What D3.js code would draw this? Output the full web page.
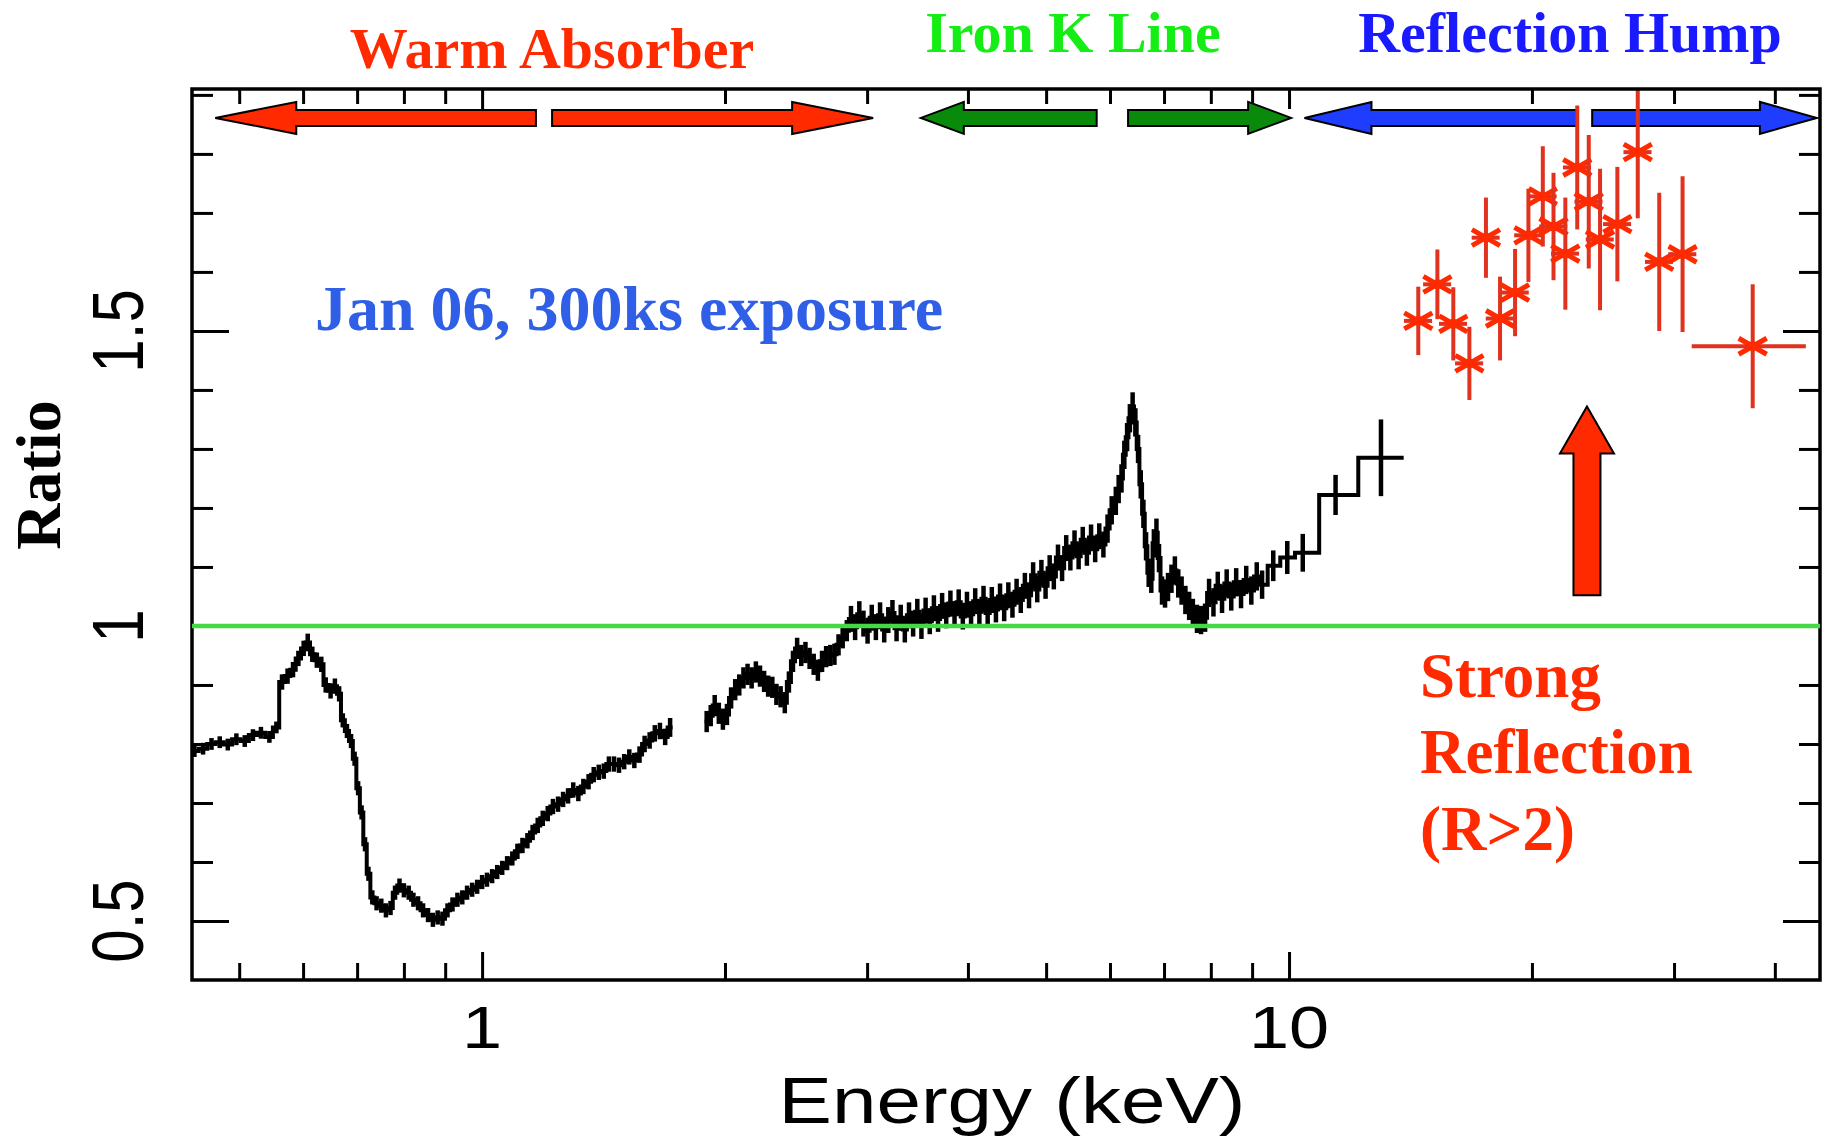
<!DOCTYPE html>
<html><head><meta charset="utf-8">
<script src="https://cdn.jsdelivr.net/npm/d3@7"></script>
<style>body{margin:0;background:#fff;}svg{display:block;}</style>
</head><body>
<svg id="chart" width="1829" height="1139"></svg>
<script>
// ---------- DATA ----------
// Black spectrum (ratio to power law), [energy keV, ratio, error]; two contiguous pieces
const softSegment = [
[0.440,0.788,0.010],[0.451,0.792,0.010],[0.462,0.800,0.010],[0.473,0.803,0.010],[0.484,0.799,0.010],
[0.496,0.808,0.010],[0.508,0.805,0.010],[0.520,0.815,0.010],[0.532,0.819,0.010],[0.545,0.812,0.010],
[0.556,0.828,0.010],[0.565,0.905,0.013],[0.574,0.915,0.013],[0.583,0.926,0.013],[0.592,0.945,0.013],
[0.601,0.962,0.013],[0.608,0.972,0.015],[0.616,0.952,0.013],[0.624,0.942,0.013],[0.632,0.935,0.013],
[0.640,0.900,0.013],[0.649,0.890,0.013],[0.657,0.898,0.013],[0.665,0.885,0.013],[0.672,0.840,0.012],
[0.680,0.822,0.012],[0.688,0.805,0.012],[0.695,0.775,0.012],[0.702,0.725,0.012],[0.709,0.684,0.012],
[0.716,0.630,0.012],[0.723,0.580,0.012],[0.731,0.540,0.012],[0.740,0.530,0.012],[0.750,0.526,0.012],
[0.760,0.518,0.012],[0.770,0.522,0.012],[0.780,0.548,0.012],[0.790,0.560,0.012],[0.800,0.552,0.012],
[0.811,0.548,0.012],[0.822,0.536,0.012],[0.833,0.530,0.012],[0.845,0.518,0.012],[0.857,0.510,0.012],
[0.869,0.502,0.012],[0.881,0.506,0.012],[0.893,0.504,0.012],[0.906,0.518,0.012],[0.919,0.528,0.012],
[0.932,0.536,0.012],[0.945,0.540,0.012],[0.958,0.548,0.012],[0.972,0.553,0.012],[0.986,0.558,0.012],
[1.000,0.566,0.012],[1.014,0.570,0.012],[1.029,0.576,0.012],[1.044,0.583,0.012],[1.059,0.590,0.012],
[1.074,0.598,0.012],[1.090,0.606,0.012],[1.106,0.618,0.013],[1.122,0.628,0.013],[1.138,0.636,0.013],
[1.155,0.650,0.013],[1.172,0.662,0.013],[1.189,0.674,0.013],[1.206,0.682,0.013],[1.224,0.694,0.013],
[1.242,0.698,0.013],[1.260,0.706,0.013],[1.278,0.712,0.013],[1.297,0.722,0.013],[1.316,0.716,0.013],
[1.335,0.728,0.013],[1.355,0.736,0.013],[1.375,0.748,0.013],[1.395,0.752,0.013],[1.415,0.754,0.013],
[1.436,0.766,0.013],[1.457,0.766,0.013],[1.478,0.764,0.013],[1.500,0.770,0.013],[1.522,0.778,0.013],
[1.544,0.772,0.013],[1.567,0.782,0.014],[1.590,0.800,0.014],[1.613,0.806,0.014],[1.637,0.818,0.014],
[1.661,0.822,0.014],[1.686,0.812,0.014],[1.710,0.828,0.016]
];
const hardSegment = [
[1.898,0.838,0.018],[1.920,0.848,0.018],[1.942,0.865,0.018],[1.965,0.852,0.018],[1.988,0.842,0.018],
[2.011,0.850,0.018],[2.035,0.878,0.018],[2.059,0.892,0.018],[2.083,0.900,0.018],[2.108,0.912,0.018],
[2.133,0.918,0.018],[2.158,0.912,0.018],[2.184,0.922,0.018],[2.210,0.915,0.018],[2.236,0.906,0.018],
[2.262,0.898,0.018],[2.289,0.896,0.018],[2.316,0.884,0.018],[2.344,0.880,0.018],[2.372,0.870,0.018],
[2.400,0.905,0.018],[2.428,0.940,0.018],[2.457,0.962,0.018],[2.486,0.950,0.018],[2.516,0.955,0.018],
[2.546,0.945,0.018],[2.576,0.935,0.018],[2.607,0.925,0.018],[2.638,0.940,0.018],[2.669,0.948,0.018],
[2.701,0.950,0.018],[2.733,0.952,0.018],[2.765,0.968,0.018],[2.798,0.980,0.018],[2.831,0.992,0.018],
[2.865,1.012,0.022],[2.899,0.998,0.022],[2.934,1.020,0.022],[2.969,1.004,0.022],[3.004,0.992,0.022],
[3.040,1.014,0.022],[3.076,0.998,0.022],[3.113,1.018,0.022],[3.150,0.994,0.022],[3.187,1.010,0.022],
[3.225,1.022,0.022],[3.263,0.996,0.022],[3.302,1.014,0.022],[3.341,0.994,0.022],[3.381,1.018,0.022],
[3.421,1.004,0.022],[3.462,1.024,0.022],[3.503,1.000,0.022],[3.545,1.026,0.022],[3.587,1.008,0.022],
[3.630,1.030,0.022],[3.673,1.012,0.022],[3.716,1.034,0.022],[3.760,1.018,0.022],[3.805,1.038,0.022],
[3.850,1.020,0.022],[3.896,1.040,0.022],[3.942,1.016,0.022],[3.989,1.036,0.022],[4.036,1.020,0.022],
[4.084,1.042,0.022],[4.133,1.024,0.022],[4.182,1.046,0.022],[4.232,1.022,0.022],[4.282,1.044,0.022],
[4.333,1.028,0.022],[4.384,1.050,0.022],[4.436,1.030,0.022],[4.489,1.052,0.022],[4.542,1.036,0.022],
[4.596,1.058,0.022],[4.651,1.044,0.022],[4.706,1.068,0.022],[4.762,1.052,0.022],[4.818,1.086,0.022],
[4.875,1.062,0.022],[4.933,1.090,0.022],[4.992,1.068,0.022],[5.051,1.098,0.022],[5.111,1.084,0.022],
[5.172,1.116,0.022],[5.233,1.098,0.022],[5.295,1.132,0.022],[5.358,1.116,0.022],[5.422,1.140,0.022],
[5.486,1.118,0.022],[5.551,1.146,0.022],[5.617,1.124,0.022],[5.684,1.150,0.022],[5.751,1.130,0.022],
[5.819,1.152,0.022],[5.888,1.138,0.022],[5.958,1.165,0.024],[6.029,1.196,0.024],[6.100,1.212,0.024],
[6.150,1.232,0.024],[6.200,1.250,0.024],[6.250,1.290,0.024],[6.300,1.320,0.024],[6.350,1.352,0.024],
[6.400,1.372,0.024],[6.450,1.345,0.024],[6.500,1.300,0.024],[6.550,1.240,0.024],[6.600,1.190,0.024],
[6.650,1.135,0.024],[6.700,1.090,0.024],[6.750,1.080,0.024],[6.800,1.140,0.024],[6.850,1.158,0.024],
[6.900,1.115,0.024],[6.960,1.060,0.024],[7.020,1.055,0.024],[7.080,1.066,0.024],[7.150,1.080,0.024],
[7.220,1.094,0.024],[7.290,1.072,0.024],[7.360,1.060,0.024],[7.440,1.044,0.024],[7.520,1.034,0.024],
[7.600,1.022,0.024],[7.690,1.012,0.024],[7.780,1.010,0.024],[7.870,1.014,0.024],[7.960,1.056,0.024],
[8.060,1.040,0.024],[8.160,1.068,0.024],[8.260,1.046,0.024],[8.370,1.072,0.024],[8.480,1.050,0.024],
[8.600,1.074,0.024],[8.720,1.054,0.024],[8.850,1.078,0.024],[8.980,1.060,0.024],[9.120,1.084,0.024],
[9.260,1.070,0.024],[9.560,1.102,0.026],[9.950,1.116,0.028],[10.40,1.124,0.032],[11.42,1.222,0.034],
[13.00,1.285,0.065]
];

// Red high-energy points
const redEnergy = [14.46,15.27,15.98,16.73,17.54,18.26,19.06,19.80,20.63,21.27,22.00,22.76,23.52,24.29,25.52,27.05,28.76,30.74,37.55];
const redELo    = [13.88,14.66,15.34,16.06,16.84,17.53,18.30,19.01,19.80,20.42,21.12,21.85,22.58,23.32,24.50,25.97,27.61,29.51,31.55];
const redEHi    = [15.04,15.88,16.62,17.40,18.24,18.99,19.82,20.59,21.46,22.12,22.88,23.67,24.46,25.26,26.54,28.13,29.91,31.97,43.70];
const redRatio  = [1.517,1.579,1.512,1.445,1.658,1.521,1.565,1.662,1.728,1.677,1.631,1.777,1.719,1.655,1.681,1.803,1.617,1.630,1.474];
const redErr    = [0.058,0.059,0.062,0.062,0.068,0.071,0.074,0.079,0.085,0.091,0.095,0.105,0.113,0.120,0.097,0.112,0.117,0.132,0.105];

// Axis ticks
const xMajorTicks = [1, 10];
const xTickLabels = ["1", "10"];
const xMinorTicks = [0.5,0.6,0.7,0.8,0.9,2,3,4,5,6,7,8,9,20,30,40];
const yMajorTicks = [0.5, 1, 1.5];
const yTickLabels = ["0.5", "1", "1.5"];
const yMinorTicks = [0.6,0.7,0.8,0.9,1.1,1.2,1.3,1.4,1.6,1.7,1.8,1.9];

// Annotation arrows (energy ranges, keV) at ratio level
const arrowLevel = 1.861;
const bandArrows = [
  {from:1.166, to:0.467, color:"#ff2a00", head:81},
  {from:1.221, to:3.052, color:"#ff2a00", head:81},
  {from:5.776, to:3.497, color:"#0a8a0a", head:43},
  {from:6.317, to:10.06, color:"#0a8a0a", head:43},
  {from:22.72, to:10.45, color:"#1f3dff", head:67},
  {from:23.75, to:45.1,  color:"#1f3dff", head:57}
];
const upArrow = {energy:23.4, from:1.052, to:1.372};

// ---------- CHART ----------
const svg = d3.select("#chart");
svg.append("rect").attr("width",1829).attr("height",1139).attr("fill","#fff");

const L=192, R=1820, T=89, B=980;
const x = d3.scaleLog().domain([0.437, 45.5]).range([L, R]);
const y = d3.scaleLinear().domain([0.4, 1.91]).range([B, T]);

svg.append("clipPath").attr("id","plotclip").append("rect")
  .attr("x",L).attr("y",T).attr("width",R-L).attr("height",B-T);

const plot = svg.append("g").attr("clip-path","url(#plotclip)");

// step path + error bars for black data
function drawSegment(seg){
  const edges = [];
  for (let i=1;i<seg.length;i++) edges.push(Math.sqrt(seg[i-1][0]*seg[i][0]));
  const lo0 = seg[0][0]*seg[0][0]/edges[0];
  const hiN = seg[seg.length-1][0]*seg[seg.length-1][0]/edges[edges.length-1];
  const lows = [lo0].concat(edges), highs = edges.concat([hiN]);
  let p = d3.path();
  seg.forEach((d,i)=>{
    if(i===0) p.moveTo(x(lows[i]), y(d[1])); else p.lineTo(x(lows[i]), y(d[1]));
    p.lineTo(x(highs[i]), y(d[1]));
  });
  plot.append("path").attr("d",p.toString()).attr("fill","none")
    .attr("stroke","#000").attr("stroke-width",4).attr("stroke-linejoin","miter");
  plot.append("g").selectAll("line").data(seg).join("line")
    .attr("x1",d=>x(d[0])).attr("x2",d=>x(d[0]))
    .attr("y1",d=>y(d[1]-d[2])).attr("y2",d=>y(d[1]+d[2]))
    .attr("stroke","#000").attr("stroke-width",4.5);
}
drawSegment(softSegment);
drawSegment(hardSegment);

// band arrows
const ay = y(arrowLevel);
bandArrows.forEach(a=>{
  const x0 = x(a.from), x1 = x(a.to);
  const dir = Math.sign(x1-x0);
  const hb = x1 - dir*a.head;
  const pts = [[x0,ay-8],[hb,ay-8],[hb,ay-16],[x1,ay],[hb,ay+16],[hb,ay+8],[x0,ay+8]];
  svg.append("polygon").attr("points",pts.map(p=>p.join(",")).join(" "))
    .attr("fill",a.color).attr("stroke","#000").attr("stroke-width",2).attr("stroke-linejoin","miter");
});

// up arrow
{
  const cx = x(upArrow.energy), yb = y(upArrow.from), yt = y(upArrow.to);
  const hb = yt + 47;
  const pts = [[cx-13.5,yb],[cx-13.5,hb],[cx-27,hb],[cx,yt],[cx+27,hb],[cx+13.5,hb],[cx+13.5,yb]];
  svg.append("polygon").attr("points",pts.map(p=>p.join(",")).join(" "))
    .attr("fill","#ff2a00").attr("stroke","#000").attr("stroke-width",2);
}

// red points
const redG = svg.append("g").attr("clip-path","url(#plotclip)");
redEnergy.forEach((e,i)=>{
  const cx = x(e), cy = y(redRatio[i]);
  redG.append("line").attr("x1",cx).attr("x2",cx)
    .attr("y1",y(redRatio[i]-redErr[i])).attr("y2",y(redRatio[i]+redErr[i]))
    .attr("stroke","#e0321e").attr("stroke-width",4);
  redG.append("line").attr("x1",x(redELo[i])).attr("x2",x(redEHi[i]))
    .attr("y1",cy).attr("y2",cy).attr("stroke","#e0321e").attr("stroke-width",4);
  redG.append("path").attr("d",`M${cx-14},${cy-8}L${cx+14},${cy+8}M${cx-14},${cy+8}L${cx+14},${cy-8}`)
    .attr("stroke","#ff2a00").attr("stroke-width",5).attr("fill","none");
  redG.append("circle").attr("cx",cx).attr("cy",cy).attr("r",5).attr("fill","#ff2a00");
});

// frame
svg.append("rect").attr("x",L).attr("y",T).attr("width",R-L).attr("height",B-T)
  .attr("fill","none").attr("stroke","#000").attr("stroke-width",3.5);

// ticks via d3 axes (inward)
function ticks(axisFn, scale, vals, size, transform){
  const g = svg.append("g").attr("transform",transform)
    .call(axisFn(scale).tickValues(vals).tickSize(-size).tickFormat(""));
  g.select(".domain").remove();
  g.selectAll(".tick line").attr("stroke","#000").attr("stroke-width",3);
}
ticks(d3.axisBottom, x, xMajorTicks, 28, `translate(0,${B})`);
ticks(d3.axisBottom, x, xMinorTicks, 17, `translate(0,${B})`);
ticks(d3.axisTop, x, xMajorTicks, 20, `translate(0,${T})`);
ticks(d3.axisTop, x, xMinorTicks, 15, `translate(0,${T})`);
ticks(d3.axisLeft, y, yMajorTicks, 37, `translate(${L},0)`);
ticks(d3.axisLeft, y, yMinorTicks, 21, `translate(${L},0)`);
ticks(d3.axisRight, y, yMajorTicks, 37, `translate(${R},0)`);
ticks(d3.axisRight, y, yMinorTicks, 21, `translate(${R},0)`);

// green unity line (drawn over frame ticks, as in the original)
svg.append("line").attr("x1",L).attr("x2",R).attr("y1",y(1)).attr("y2",y(1))
  .attr("stroke","#46d846").attr("stroke-width",4.5);

// tick labels
const sans = "'Liberation Sans', Arial, Helvetica, sans-serif";
xMajorTicks.forEach((v,i)=>{
  svg.append("text").attr("transform",`translate(${x(v)},1048) scale(1.2,1)`)
    .attr("text-anchor","middle").attr("font-family",sans).attr("font-size",60)
    .attr("fill","#000").text(xTickLabels[i]);
});
yMajorTicks.forEach((v,i)=>{
  svg.append("text").attr("transform",`translate(143,${y(v)}) scale(1.2,1) rotate(-90)`)
    .attr("text-anchor","middle").attr("font-family",sans).attr("font-size",60)
    .attr("fill","#000").text(yTickLabels[i]);
});

// axis titles
svg.append("text").attr("transform","translate(1012,1123) scale(1.25,1)")
  .attr("text-anchor","middle").attr("font-family",sans).attr("font-size",64)
  .attr("fill","#000").text("Energy (keV)");
const serif = "'Liberation Serif', 'Times New Roman', Times, serif";
svg.append("text").attr("transform","translate(60,475) rotate(-90)")
  .attr("text-anchor","middle").attr("font-family",serif).attr("font-weight","bold")
  .attr("font-size",64).attr("fill","#000").text("Ratio");

// annotations
function label(txt, xp, yp, size, color, anchor){
  svg.append("text").attr("x",xp).attr("y",yp).attr("text-anchor",anchor||"middle")
    .attr("font-family",serif).attr("font-weight","bold").attr("font-size",size)
    .attr("fill",color).text(txt);
}
label("Warm Absorber", 552, 68, 58, "#ff2a00");
label("Iron K Line", 1073, 52, 58, "#14ee14");
label("Reflection Hump", 1570, 52, 58, "#1a1aff");
label("Jan 06, 300ks exposure", 629, 330, 64, "#2f5fe6");
label("Strong", 1420, 697, 63, "#ff2a00", "start");
label("Reflection", 1420, 773, 63, "#ff2a00", "start");
label("(R>2)", 1420, 850, 63, "#ff2a00", "start");
</script>
</body></html>
